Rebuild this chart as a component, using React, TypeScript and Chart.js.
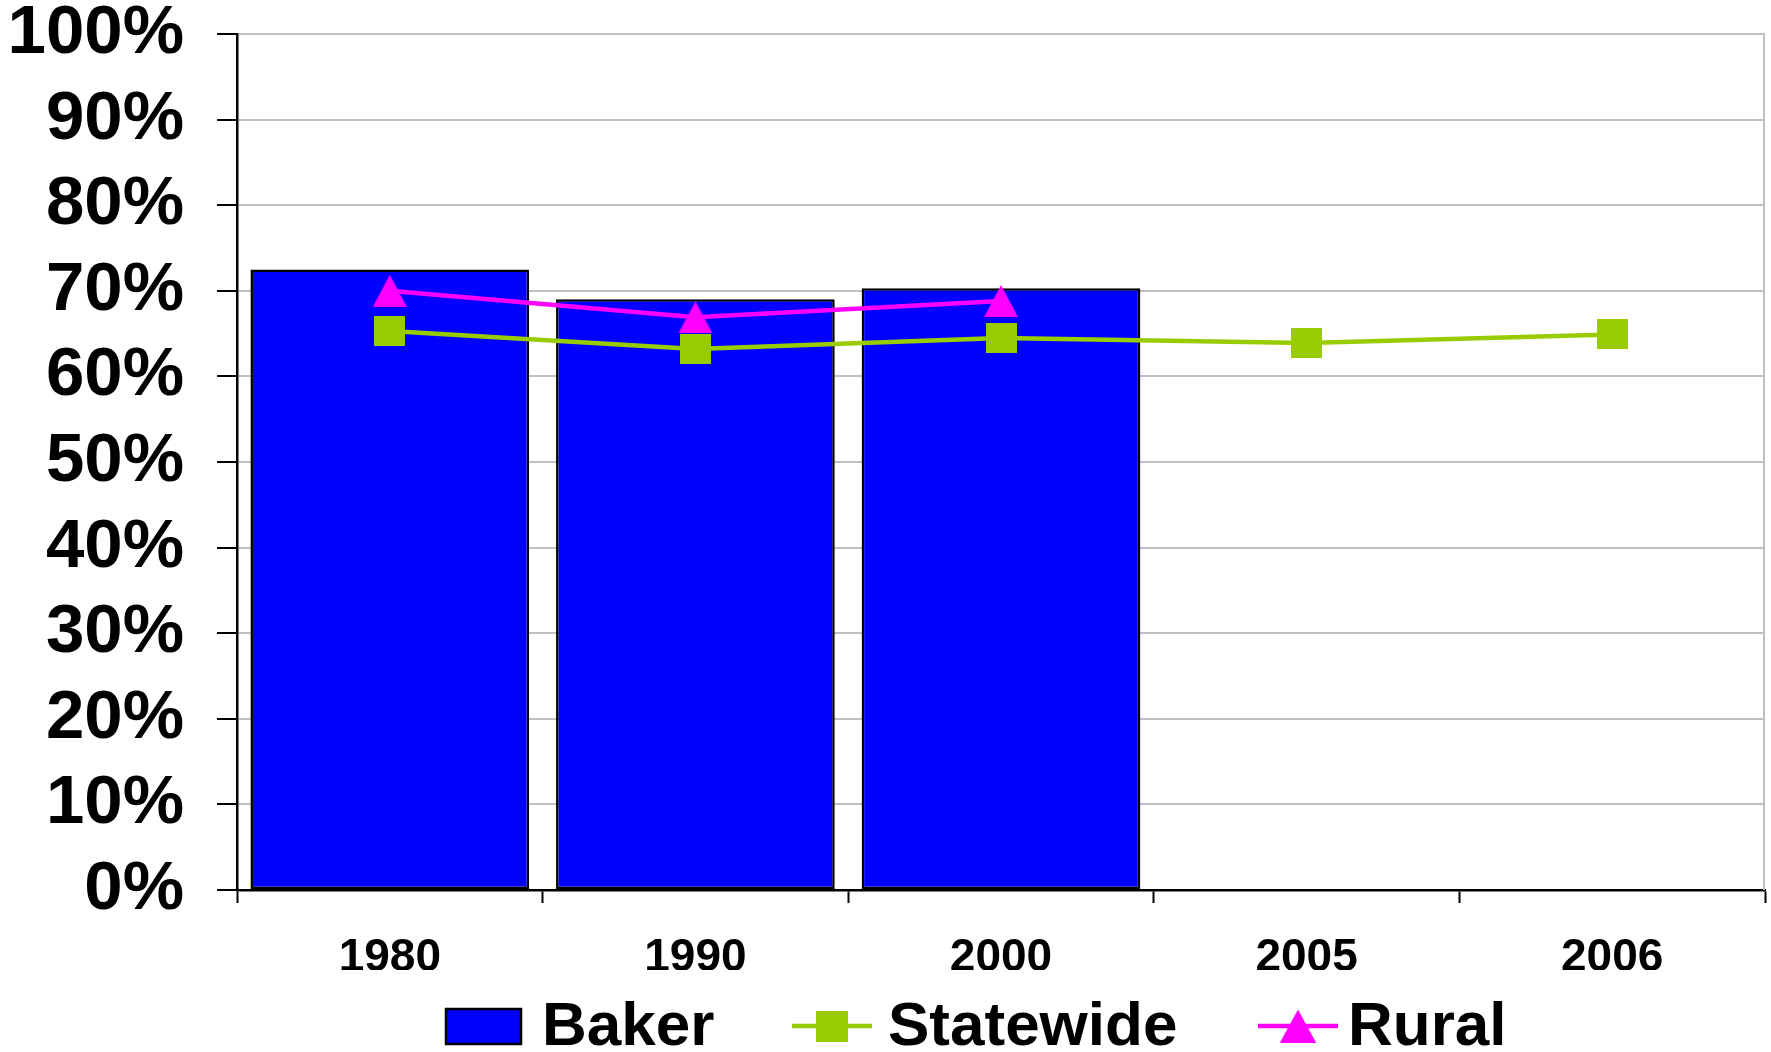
import React, { useEffect, useRef } from "react";
import { Chart, registerables } from "chart.js";

Chart.register(...registerables);

const years = ["1980", "1990", "2000", "2005", "2006"];
const bakerValues = [72.5, 69.0, 70.3, null, null];
const statewideValues = [65.3, 63.2, 64.5, 63.9, 64.9];
const ruralValues = [70.0, 66.9, 68.8, null, null];
const seriesNames = ["Baker", "Statewide", "Rural"];
const yTickValues = [0, 10, 20, 30, 40, 50, 60, 70, 80, 90, 100];

const FONT = "'Liberation Sans', Arial, Helvetica, sans-serif";
const BLUE = "#0000FF";
const GREEN = "#99CC00";
const MAGENTA = "#FF00FF";

function makeSquare(w: number, h: number, color: string) {
  const c = document.createElement("canvas");
  c.width = w;
  c.height = h;
  const ctx = c.getContext("2d")!;
  ctx.fillStyle = color;
  ctx.fillRect(0, 0, w, h);
  return c;
}

function makeTriangle(w: number, h: number, color: string) {
  const c = document.createElement("canvas");
  c.width = w;
  c.height = h;
  const ctx = c.getContext("2d")!;
  ctx.fillStyle = color;
  ctx.beginPath();
  ctx.moveTo(w / 2, 0);
  ctx.lineTo(w, h);
  ctx.lineTo(0, h);
  ctx.closePath();
  ctx.fill();
  return c;
}

export default function App() {
  const canvasRef = useRef<HTMLCanvasElement | null>(null);

  useEffect(() => {
    document.body.style.margin = "0";
    const canvas = canvasRef.current;
    if (!canvas) return;

    const squareImg = makeSquare(31, 30, GREEN);
    const triImg = makeTriangle(34, 32, MAGENTA);
    const legendSquare = makeSquare(32, 31, GREEN);
    const legendTri = makeTriangle(36, 33, MAGENTA);

    const borderPlugin = {
      id: "rightBorder",
      beforeDatasetsDraw(chart: any) {
        const { ctx, chartArea } = chart;
        ctx.save();
        ctx.strokeStyle = "#c0c0c0";
        ctx.lineWidth = 2;
        ctx.beginPath();
        ctx.moveTo(chartArea.right - 1, chartArea.top);
        ctx.lineTo(chartArea.right - 1, chartArea.bottom);
        ctx.stroke();
        ctx.restore();
      },
    };

    const legendPlugin = {
      id: "customLegend",
      afterDraw(chart: any) {
        const { ctx } = chart;
        ctx.save();
        ctx.font = `bold 62px ${FONT}`;
        ctx.textBaseline = "alphabetic";
        ctx.textAlign = "left";
        const baseline = 1045;
        const midY = 1026;
        const markerX = [446, 792, 1258];
        const markerW = [75, 80, 80];
        const textX = [542, 888, 1348];
        seriesNames.forEach((name, i) => {
          const x = markerX[i];
          if (i === 0) {
            ctx.fillStyle = BLUE;
            ctx.fillRect(x, midY - 17, markerW[i], 35);
            ctx.strokeStyle = "#000";
            ctx.lineWidth = 2.5;
            ctx.strokeRect(x, midY - 17, markerW[i], 35);
          } else {
            const color = i === 1 ? GREEN : MAGENTA;
            const img = i === 1 ? legendSquare : legendTri;
            ctx.strokeStyle = color;
            ctx.lineWidth = 4.5;
            ctx.beginPath();
            ctx.moveTo(x, midY);
            ctx.lineTo(x + markerW[i], midY);
            ctx.stroke();
            ctx.drawImage(img, x + markerW[i] / 2 - img.width / 2, midY - img.height / 2);
          }
          ctx.fillStyle = "#000";
          ctx.fillText(name, textX[i], baseline);
        });
        ctx.restore();
      },
    };

    const chart = new Chart(canvas, {
      type: "bar",
      data: {
        labels: years,
        datasets: [
          {
            type: "line",
            label: seriesNames[2],
            data: ruralValues,
            borderColor: MAGENTA,
            backgroundColor: MAGENTA,
            borderWidth: 4.5,
            pointStyle: triImg as any,
            pointRadius: 16,
            spanGaps: false,
            order: 1,
          } as any,
          {
            type: "line",
            label: seriesNames[1],
            data: statewideValues,
            borderColor: GREEN,
            backgroundColor: GREEN,
            borderWidth: 4.5,
            pointStyle: squareImg as any,
            pointRadius: 16,
            order: 2,
          } as any,
          {
            type: "bar",
            label: seriesNames[0],
            data: bakerValues,
            backgroundColor: BLUE,
            borderColor: "#000",
            borderWidth: 2.5,
            borderSkipped: false,
            barPercentage: 0.912,
            categoryPercentage: 1,
            order: 3,
          } as any,
        ],
      },
      options: {
        responsive: false,
        animation: false,
        devicePixelRatio: 1,
        layout: { autoPadding: false, padding: { top: 34, right: 6, bottom: 82, left: 0 } },
        plugins: {
          legend: { display: false },
          tooltip: { enabled: false },
          title: { display: false },
        },
        scales: {
          x: {
            type: "category",
            offset: true,
            grid: {
              offset: true,
              drawOnChartArea: false,
              tickLength: 13,
              tickColor: "#000",
              tickWidth: 2,
            },
            border: { color: "#000", width: 2.5 },
            ticks: {
              color: "#000",
              font: { family: FONT, size: 46, weight: "bold" },
              padding: 28,
              maxRotation: 0,
            },
            afterFit(scale: any) {
              scale.height = 80;
              scale.paddingLeft = 0;
              scale.paddingRight = 0;
            },
          },
          y: {
            min: 0,
            max: 100,
            afterBuildTicks(scale: any) {
              scale.ticks = yTickValues.map((v) => ({ value: v }));
            },
            grid: {
              color: "#c0c0c0",
              lineWidth: 2,
              tickColor: "#000",
              tickLength: 20,
              tickWidth: 2,
            },
            border: { color: "#000", width: 2.5 },
            ticks: {
              color: "#000",
              font: { family: FONT, size: 69, weight: "bold", lineHeight: 1 },
              padding: 33,
              callback: (v: any) => `${v}%`,
            },
            afterFit(scale: any) {
              scale.width = 237;
              scale.paddingTop = 0;
              scale.paddingBottom = 0;
            },
          },
        },
      } as any,
      plugins: [borderPlugin, legendPlugin],
    });

    return () => chart.destroy();
  }, []);

  return (
    <div style={{ width: 1771, height: 1052, background: "#fff" }}>
      <canvas ref={canvasRef} width={1771} height={1052} style={{ display: "block" }} />
    </div>
  );
}
